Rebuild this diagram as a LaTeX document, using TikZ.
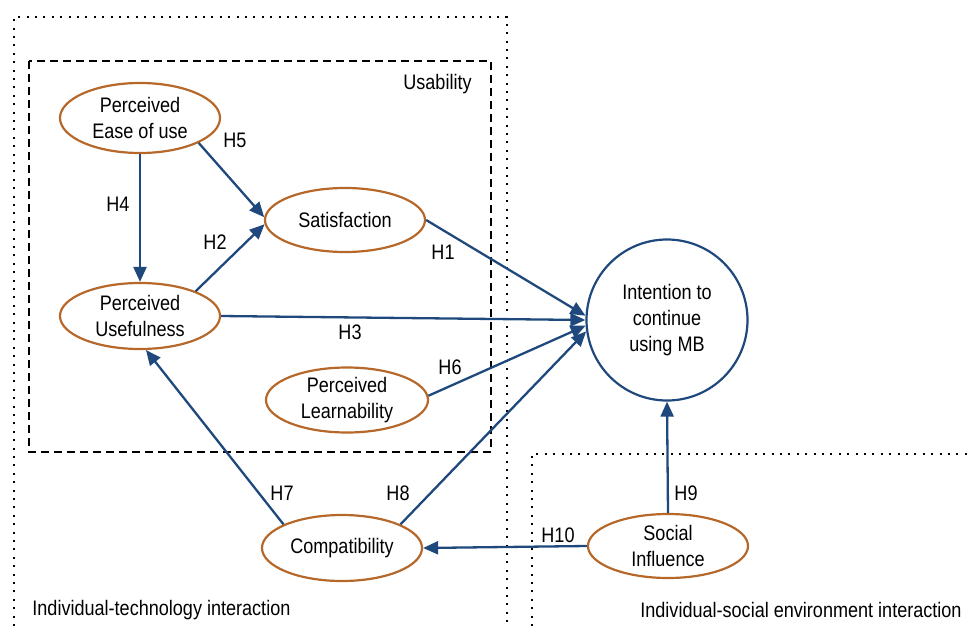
\documentclass[tikz,border=0pt]{standalone}
\usepackage{fontspec}
\setmainfont{Liberation Sans}[FakeStretch=0.86]
\usetikzlibrary{shapes.geometric,arrows.meta}
\definecolor{hypblue}{RGB}{31,73,125}
\definecolor{constrbrown}{RGB}{181,104,42}
\begin{document}
\begin{tikzpicture}[x=0.5pt,y=-0.5pt,
  font=\fontsize{10.5}{13}\selectfont,
  constr/.style={ellipse,draw=constrbrown,line width=1.1pt,inner sep=0pt,align=center},
  hyp/.style={draw=hypblue,line width=1.15pt,-{Triangle[length=7.5pt,width=6.5pt]}},
  dots/.style={line width=1pt,dash pattern=on 1pt off 3.2pt},
  dashbox/.style={line width=0.75pt,dash pattern=on 4pt off 2.5pt}]
\useasboundingbox (0,0) rectangle (968,626);
\draw[dots] (14,626) -- (14,17) -- (507,17) -- (507,626);
\draw[dots] (532,626) -- (532,454) -- (968,454);
\draw[dashbox] (29,61) rectangle (491,452);
\node[anchor=east,inner sep=0pt] (usab) at (472,84) {Usability};
\node[anchor=west,inner sep=0pt] (itech) at (32,610) {Individual-technology interaction};
\node[anchor=east,inner sep=0pt] (isoc) at (962,610) {Individual-social environment interaction};

\node[constr,minimum width=80pt,minimum height=35pt] (peu) at (140,118) {Perceived\\Ease of use};
\node[constr,minimum width=80pt,minimum height=32pt] (sat) at (345,220) {Satisfaction};
\node[constr,minimum width=80pt,minimum height=33pt] (pu) at (140,316) {Perceived\\Usefulness};
\node[constr,minimum width=81pt,minimum height=32.5pt] (pl) at (347,400) {Perceived\\Learnability};
\node[constr,minimum width=80pt,minimum height=33pt] (comp) at (342,548) {Compatibility};
\node[constr,minimum width=80pt,minimum height=32pt] (soc) at (668,546) {Social\\Influence};
\node[circle,draw=hypblue,line width=1.1pt,minimum size=80.5pt,inner sep=0pt,align=center] (int) at (667,320) {Intention to\\continue\\using MB};

\foreach \a/\b in {peu.south/pu.north,peu.-23/sat.178,pu.24/sat.183,sat.east/int.177,pu.east/int.west,pl.3/int.184,comp.22/int.188,comp.158/pu.-80,soc.west/comp.east,soc.north/int.south}
{
\draw[hyp] (\a) -- (\b);
}
\foreach \h/\x/\y in {H1/443/252,H2/215/242,H3/350/332,H4/118/204,H5/235/140,H6/450/367,H7/282/493,H8/398/493,H9/686/493,H10/558/535}
\node[inner sep=0pt] (\h) at (\x,\y) {\h};
\end{tikzpicture}
\end{document}
